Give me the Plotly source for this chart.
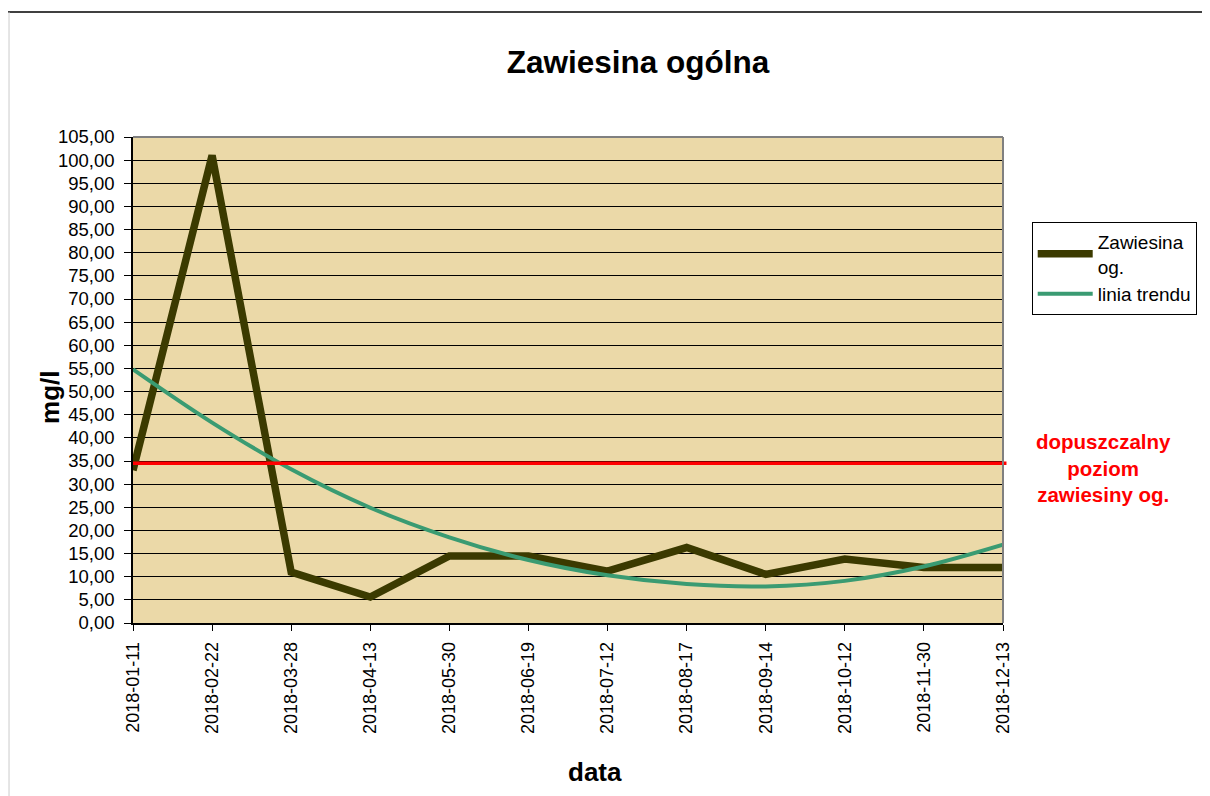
import plotly.graph_objects as go

dates = ["2018-01-11", "2018-02-22", "2018-03-28", "2018-04-13", "2018-05-30", "2018-06-19",
         "2018-07-12", "2018-08-17", "2018-09-14", "2018-10-12", "2018-11-30", "2018-12-13"]
zawiesina = [33.0, 101.0, 11.0, 5.6, 14.5, 14.5, 11.2, 16.3, 10.5, 13.8, 12.0, 12.0]
trend = [54.8, 43.3, 33.2, 24.9, 18.5, 13.6, 10.3, 8.4, 7.9, 9.1, 12.2, 16.9]
limit_value = 34.5
y_ticks = [i * 5 for i in range(22)]

FONT = "Liberation Sans, Arial"

fig = go.Figure()
fig.add_trace(go.Scatter(x=dates, y=zawiesina, mode="lines", name="Zawiesina<br>og.",
                         line=dict(color="#3b3a00", width=7.5)))
fig.add_trace(go.Scatter(x=dates, y=trend, mode="lines", name="linia trendu",
                         line=dict(color="#3a9b72", width=4, shape="spline")))

# permissible level line
fig.add_shape(type="line", xref="paper", yref="y", x0=0, x1=1.004, y0=limit_value, y1=limit_value,
              line=dict(color="#ff0000", width=3.5), layer="above")

# page border lines
fig.add_shape(type="line", xref="paper", yref="paper", x0=-0.145, x1=1.25, y0=1.257, y1=1.257,
              line=dict(color="#000000", width=1.5))
fig.add_shape(type="line", xref="paper", yref="paper", x0=-0.1425, x1=-0.1425, y0=-0.37, y1=1.257,
              line=dict(color="#cccccc", width=1))

fig.add_annotation(xref="paper", yref="paper", x=1.115, y=0.319, xanchor="center", yanchor="middle",
                   text="<b>dopuszczalny<br>poziom<br>zawiesiny og.</b>", showarrow=False,
                   font=dict(family=FONT, size=20.5, color="#ff0000"),
                   align="center")

# axis titles
fig.add_annotation(xref="paper", yref="paper", x=-0.0954, y=0.463, xanchor="center", yanchor="middle",
                   text="<b>mg/l</b>", textangle=-90, showarrow=False,
                   font=dict(family=FONT, size=26, color="#000000"))
fig.add_annotation(xref="paper", yref="paper", x=0.531, y=-0.3066, xanchor="center", yanchor="middle",
                   text="<b>data</b>", showarrow=False,
                   font=dict(family=FONT, size=26, color="#000000"))

fig.update_layout(
    width=1210, height=796,
    margin=dict(l=125, r=215, t=129, b=181),
    paper_bgcolor="white",
    plot_bgcolor="#ebd9a8",
    separators=", ",
    font=dict(family=FONT, color="#000000"),
    title=dict(text="<b>Zawiesina ogólna</b>", x=0.5805, xanchor="center", y=0.932, yanchor="middle",
               xref="paper",
               font=dict(size=31.5, family=FONT, color="#000000")),
    showlegend=True,
    legend=dict(x=1.033, y=0.826, xanchor="left", yanchor="top", bordercolor="#000000", borderwidth=1,
                bgcolor="white", font=dict(size=19), tracegroupgap=0, itemwidth=55),
    xaxis=dict(type="category", range=[0, 11], tickangle=-90, tickfont=dict(size=18),
               showgrid=False, showline=True, linecolor="#000000", linewidth=1.5,
               ticks="outside", ticklen=6, tickcolor="#000000", mirror=False,
               ticklabelstandoff=4),
    yaxis=dict(range=[0, 105], tickvals=y_ticks, tickformat=".2f", tickfont=dict(size=18.5),
               showgrid=True, gridcolor="#000000", gridwidth=1,
               showline=True, linecolor="#000000", linewidth=1.5,
               ticks="outside", ticklen=7, tickcolor="#000000",
               ticklabelstandoff=6),
)

# gray frame on top/right of plot area
fig.add_shape(type="line", xref="paper", yref="paper", x0=0, x1=1, y0=1, y1=1,
              line=dict(color="#808080", width=2))
fig.add_shape(type="line", xref="paper", yref="paper", x0=1, x1=1, y0=0, y1=1,
              line=dict(color="#808080", width=2))

fig.write_html("out.html")
